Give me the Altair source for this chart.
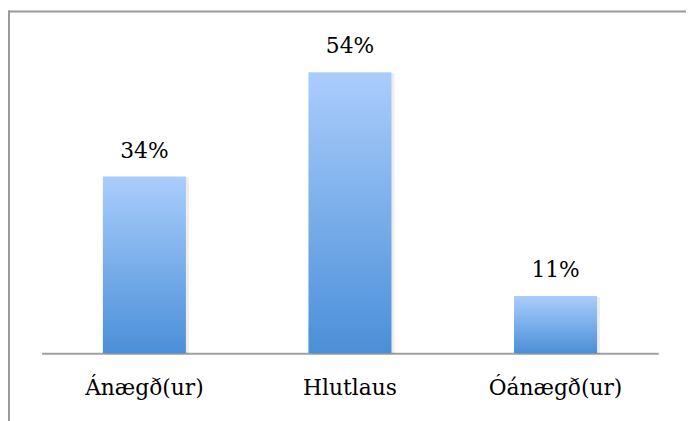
import altair as alt
import pandas as pd

categories = ["Ánægð(ur)", "Hlutlaus", "Óánægð(ur)"]
values = [34, 54, 11]
labels = ["34%", "54%", "11%"]

df = pd.DataFrame({"cat": categories, "val": values, "lab": labels})

FONT = "DejaVu Serif"
FS = 22

x_enc = alt.X(
    "cat:N",
    sort=categories,
    scale=alt.Scale(paddingInner=0.596, paddingOuter=0.298),
    axis=alt.Axis(
        title=None,
        labelAngle=0,
        ticks=False,
        domain=True,
        domainColor="#A0A0A0",
        domainWidth=2,
        labelFont=FONT,
        labelFontSize=FS,
        labelColor="#000000",
        labelBaseline="alphabetic",
        labelPadding=42,
    ),
)
y_enc = alt.Y("val:Q", scale=alt.Scale(domain=[0, 60], nice=False), axis=None)

grad = alt.LinearGradient(
    gradient="linear",
    stops=[
        alt.GradientStop(color="#ABCDFC", offset=0),
        alt.GradientStop(color="#4A8FD8", offset=1),
    ],
    x1=0, x2=0, y1=0, y2=1,
)

base = alt.Chart(df)

shadow = base.mark_bar(color="#000000", opacity=0.07, xOffset=3, yOffset=1).encode(x=x_enc, y=y_enc)
bars = base.mark_bar(color=grad).encode(x=x_enc, y=y_enc)
text = base.mark_text(
    font=FONT, fontSize=FS, color="#000000", baseline="alphabetic", dy=-19
).encode(x=x_enc, y=y_enc, text="lab:N")

bd = pd.DataFrame({"k": [0]})
top_border = alt.Chart(bd).mark_rule(color="#9A9A9A", strokeWidth=2).encode(
    x=alt.value(-34), x2=alt.value(660), y=alt.value(-30)
)
left_border = alt.Chart(bd).mark_rule(color="#9A9A9A", strokeWidth=2).encode(
    x=alt.value(-33), y=alt.value(-31), y2=alt.value(390)
)

chart = (
    alt.layer(shadow, bars, text, top_border, left_border)
    .properties(
        width=624,
        height=316,
        autosize=alt.AutoSizeParams(type="none"),
        padding={"left": 34, "top": 31, "right": 28, "bottom": 66},
        background="#FFFFFF",
    )
    .configure_view(stroke=None)
)

chart.save("out.html", embed_options={"renderer": "svg", "actions": False})
